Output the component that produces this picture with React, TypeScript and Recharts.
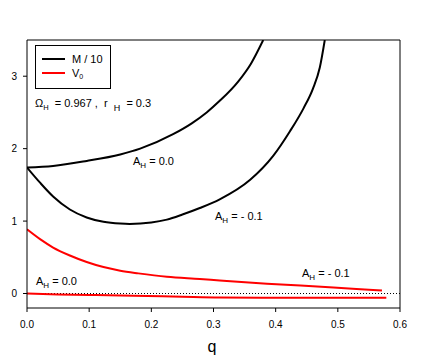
import React from 'react';
import { ComposedChart, Line, XAxis, YAxis, ReferenceLine } from 'recharts';

// A_H = 0.0, M/10
const qMUpper = [0, 0.042, 0.096, 0.15, 0.182, 0.235, 0.265, 0.289, 0.31, 0.34, 0.36, 0.38];
const mUpper = [1.74, 1.76, 1.83, 1.92, 2.0, 2.2, 2.35, 2.5, 2.66, 2.93, 3.17, 3.5];
// A_H = -0.1, M/10
const qMLower = [0, 0.021, 0.042, 0.069, 0.096, 0.123, 0.15, 0.165, 0.2, 0.225, 0.25, 0.278, 0.31, 0.359, 0.396, 0.423, 0.445, 0.46, 0.471, 0.479];
const mLower = [1.74, 1.53, 1.34, 1.16, 1.05, 0.99, 0.965, 0.96, 0.98, 1.02, 1.09, 1.18, 1.3, 1.57, 1.9, 2.24, 2.56, 2.83, 3.12, 3.5];
// A_H = -0.1, V0
const qVUpper = [0, 0.021, 0.042, 0.069, 0.096, 0.123, 0.15, 0.179, 0.225, 0.278, 0.31, 0.386, 0.44, 0.493, 0.53, 0.571];
const vUpper = [0.886, 0.75, 0.635, 0.525, 0.435, 0.365, 0.315, 0.278, 0.23, 0.2, 0.18, 0.135, 0.11, 0.083, 0.063, 0.04];
// A_H = 0.0, V0
const qVLower = [0, 0.05, 0.1, 0.171, 0.25, 0.31, 0.4, 0.5, 0.578];
const vLower = [0, -0.012, -0.02, -0.03, -0.045, -0.055, -0.058, -0.06, -0.06];

const xTicks = [0, 0.1, 0.2, 0.3, 0.4, 0.5, 0.6];
const yTicks = [0, 1, 2, 3];

const toPts = (xs: number[], ys: number[]) => xs.map((x, i) => ({ q: x, v: ys[i] }));

const FONT = '"Liberation Sans", Arial, sans-serif';

export default function App() {
  return (
    <div style={{ position: 'absolute', left: 0, top: 0, width: 436, height: 361, background: '#fff' }}>
      <ComposedChart width={436} height={361} margin={{ top: 40, right: 36, left: 0, bottom: 23 }}>
        <XAxis
          type="number"
          dataKey="q"
          domain={[0, 0.6]}
          ticks={xTicks}
          tickFormatter={(v: number) => v.toFixed(1)}
          allowDataOverflow
          stroke="#000"
          tick={{ fill: '#000', fontSize: 10, fontFamily: FONT }}
          tickSize={4}
          tickMargin={9}
          height={30}
        />
        <YAxis
          type="number"
          dataKey="v"
          domain={[-0.2, 3.5]}
          ticks={yTicks}
          allowDataOverflow
          stroke="#000"
          tick={{ fill: '#000', fontSize: 10, fontFamily: FONT }}
          tickSize={4}
          tickMargin={6}
          width={27}
        />
        <ReferenceLine y={0} stroke="#000" strokeDasharray="1 2" strokeWidth={1} />
        <ReferenceLine y={3.5} stroke="#000" strokeWidth={1} />
        <ReferenceLine x={0.6} stroke="#000" strokeWidth={1} />
        <Line data={toPts(qMUpper, mUpper)} dataKey="v" type="monotone" stroke="#000" strokeWidth={2} dot={false} isAnimationActive={false} />
        <Line data={toPts(qMLower, mLower)} dataKey="v" type="monotone" stroke="#000" strokeWidth={2} dot={false} isAnimationActive={false} />
        <Line data={toPts(qVUpper, vUpper)} dataKey="v" type="monotone" stroke="#ff0000" strokeWidth={2} dot={false} isAnimationActive={false} />
        <Line data={toPts(qVLower, vLower)} dataKey="v" type="monotone" stroke="#ff0000" strokeWidth={2} dot={false} isAnimationActive={false} />
      </ComposedChart>
      <svg width={436} height={361} style={{ position: 'absolute', left: 0, top: 0, pointerEvents: 'none' }} fontFamily={FONT}>
        <rect x={35.5} y={45.5} width={75} height={43} fill="#fff" stroke="#000" strokeWidth={1} />
        <line x1={42} x2={65} y1={59} y2={59} stroke="#000" strokeWidth={2} />
        <text x={72} y={63} fontSize={11} fill="#000">M / 10</text>
        <line x1={42} x2={65} y1={73} y2={73} stroke="#ff0000" strokeWidth={2} />
        <text x={72} y={77} fontSize={11} fill="#000">V<tspan fontSize={7} dy={2}>0</tspan></text>

        <text x={35} y={107} fontSize={11} fill="#000" xmlSpace="preserve">
          Ω<tspan fontSize={7.5} dy={3}>H</tspan><tspan dy={-3}>{'  = 0.967 ,  r  '}</tspan><tspan fontSize={9} dy={4}>H</tspan><tspan dy={-4}>{'  = 0.3'}</tspan>
        </text>

        <text x={133} y={165} fontSize={11} fill="#000">A<tspan fontSize={8} dy={3}>H</tspan><tspan dy={-3}> = 0.0</tspan></text>
        <text x={215} y={220} fontSize={11} fill="#000">A<tspan fontSize={8} dy={3}>H</tspan><tspan dy={-3}> = - 0.1</tspan></text>
        <text x={302} y={277} fontSize={11} fill="#000">A<tspan fontSize={8} dy={3}>H</tspan><tspan dy={-3}> = - 0.1</tspan></text>
        <text x={36} y={285} fontSize={11} fill="#000">A<tspan fontSize={8} dy={3}>H</tspan><tspan dy={-3}> = 0.0</tspan></text>

        <text x={212} y={352} fontSize={16} fill="#000" textAnchor="middle">q</text>
      </svg>
    </div>
  );
}
